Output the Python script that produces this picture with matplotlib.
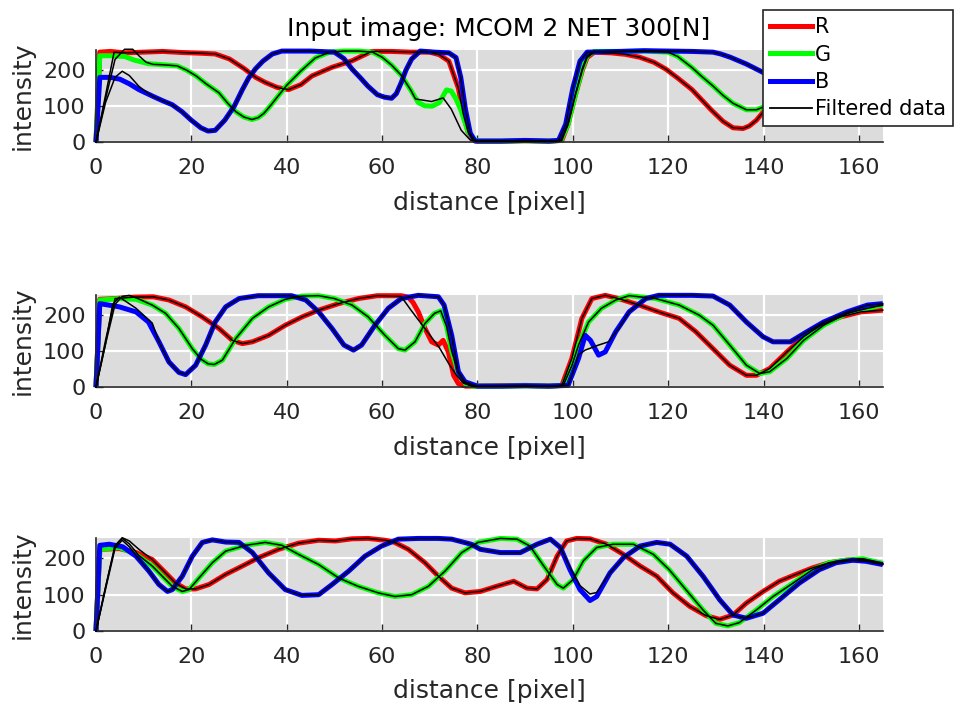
import matplotlib
matplotlib.use('Agg')
import matplotlib.pyplot as plt
from matplotlib.lines import Line2D

plt.rcParams['font.family'] = ['DejaVu Sans']

TITLE = 'Input image: MCOM 2 NET 300[N]'
XLABEL = 'distance [pixel]'
YLABEL = 'intensity'
LEGEND_LABELS = ['R', 'G', 'B', 'Filtered data']
XTICKS = [0, 20, 40, 60, 80, 100, 120, 140, 160]
YTICKS = [0, 100, 200]

# ---------------- Panel 1 (distance, intensity) ----------------
R1 = [(0,0),(0.8,250),(3,252),(6,248),(10,250),(14,252),(18,249),(22,247),(25,245),(28,231),(31,205),(33.5,180),(35.5,166),(38,152),(40.4,146),(43,160),(45.3,184),(49.5,208),(53.7,226),(57.8,252),(62,252),(66,250),(70,250),(72,243),(74,225),(76,150),(77,80),(78,30),(79,8),(80,3),(85,3),(90,4),(95,3),(97.7,5),(99,50),(100.5,130),(102,200),(103,235),(104.5,250),(108,248),(111,244),(114,236),(117,222),(119.5,203),(122,178),(125,146),(127,118),(129,90),(131.5,58),(133.6,40),(135.7,38),(137,45),(138.5,61),(140,85),(143,115),(148,140),(155,155),(165,165)]
G1 = [(0,0),(0.8,240),(3,240),(6,238),(8,228),(11,218),(14,215),(17,212),(19,200),(21,184),(23,163),(25.8,137),(27.5,110),(29.3,85),(31,70),(32.7,63),(34,68),(35.2,80),(36.5,100),(38,125),(40,158),(43,198),(46,234),(49,250),(52,253),(55,253),(58,250),(60,236),(62,214),(64,186),(66,145),(67.6,110),(69,101),(70.5,100),(72,110),(73.5,145),(74.5,142),(75.5,120),(76.5,90),(78,30),(79.5,5),(81,3),(85,3),(90,4),(95,3),(97.5,5),(99,50),(100.5,130),(102,205),(103,240),(104.5,252),(110,252),(115,253),(120,250),(122,238),(125,207),(127,183),(129.4,156),(131.5,130),(133.6,108),(136.4,90),(138.5,90),(140,98),(143,115),(148,130),(155,145),(165,155)]
B1 = [(0,0),(0.8,180),(3,180),(5,175),(7,162),(9,146),(12,127),(14,115),(16,104),(18,85),(20,61),(22,40),(23.5,31),(25,33),(27,61),(29,100),(30.7,146),(32,178),(33.4,203),(35,225),(37,245),(39,253),(45,253),(50,250),(52,232),(53.7,203),(55.5,178),(57,156),(59,132),(60.5,125),(62,122),(63,135),(64,165),(65,200),(66.2,231),(68,253),(71,250),(74,248),(75.5,235),(76.5,180),(77.5,90),(78.5,25),(79.5,3),(85,3),(90,5),(95,3),(97,5),(98.5,50),(100,150),(101.5,225),(103,250),(110,252),(115,254),(120,253),(125,252),(129.4,250),(131,245),(133,236),(136.4,217),(140,193),(145,175),(150,165),(165,150)]
# filtered-data segments that differ from the raw curves
FR1_seg = [(0,0),(2,130),(3.8,250),(6,248)]
FG1_seg = [(0,0),(2,120),(4,230),(6,258),(7.7,258),(9,240),(10.5,222),(12,216)]
FG1_seg2 = [(67,120),(70.4,113),(72.8,123),(74.5,92),(76.6,33),(78.5,6),(80,3)]
FB1_seg = [(0,0),(2,110),(4,180),(5.5,197),(7,185),(9,155),(11,135),(12,127)]

# ---------------- Panel 2 ----------------
R2 = [(0,0),(0.8,244),(4,246),(8,250),(12,251),(15.3,242),(18.8,223),(22.3,195),(25.8,163),(28.6,130),(30.7,121),(32.8,126),(36.2,144),(39.7,172),(43.2,195),(46.7,214),(50.9,232),(55,246),(59,254),(64,254),(65.5,250),(66.5,235),(67.6,209),(69,163),(70.4,126),(71.8,117),(72.8,130),(73.9,98),(75,33),(76,10),(77.5,3),(80,3),(85,4),(90,5),(95,3),(97.7,5),(99.8,80),(101.9,191),(104,246),(106.8,255),(109.6,246),(113.9,228),(118,209),(122.3,191),(125.8,154),(129.4,107),(132.9,61),(136.4,33),(138.5,33),(141.3,52),(144.9,98),(148.4,140),(151.9,172),(156.1,195),(160.4,209),(165,214)]
G2 = [(0,0),(0.8,242),(5,246),(8.4,244),(11.8,228),(14.6,205),(17.4,163),(20.2,107),(22,78),(23.5,65),(24.8,63),(26.5,75),(29.3,135),(32.8,191),(36.2,223),(39.7,244),(43.2,253),(46.7,254),(50,246),(53.7,228),(57.1,195),(60.6,144),(63.4,107),(64.8,103),(66.9,126),(69,177),(71,205),(72.3,212),(73.5,170),(74.6,100),(76,40),(77.5,10),(79,3),(85,3),(90,4),(95,3),(98,5),(99.8,60),(101.2,117),(103.3,181),(106,219),(109,242),(111.8,254),(117.4,246),(122.3,228),(126.5,200),(129.4,172),(132.9,117),(136.4,61),(139.2,38),(141.3,43),(144.9,80),(148.4,130),(152.6,172),(157.5,205),(161.8,219),(165,228)]
B2 = [(0,0),(0.8,232),(4.9,223),(8.4,209),(11,181),(13.2,126),(15.3,70),(17.4,41),(18.8,35),(20.9,61),(23,117),(25,181),(27.2,223),(30,246),(34,254),(41,254),(44,242),(46.7,209),(49.5,163),(52,117),(54,103),(55.7,117),(58.5,172),(61.3,219),(64,246),(67.6,255),(71.8,251),(73,228),(74.6,144),(76,43),(77.4,15),(80,3),(85,3),(90,4),(95,3),(99,5),(101.2,80),(102.6,144),(103.7,130),(105.4,89),(106.8,98),(109,154),(111.8,209),(115.3,246),(118,255),(125,255),(129.4,253),(132.9,228),(136.4,181),(139.9,140),(142,126),(145.6,126),(149.1,154),(152.6,181),(157.5,209),(161.8,228),(165,232)]
FR2_seg = [(0,0),(2,130),(4,246)]
FR2_seg2 = [(64,252),(66,215),(68,180),(70,145),(72,110),(74,65),(75.5,35),(77,12),(79,3)]
FG2_seg = [(0,0),(2,120),(4,230),(5.5,252),(7,255),(9,245),(11.1,232),(11.8,228)]
FB2_seg = [(0,0),(2,120),(3.5,230),(4.9,250),(6.5,236),(8.4,219),(11.8,178),(13.2,126)]
FB2_seg2 = [(99,5),(100,40),(101.2,90),(102.6,103),(105.4,117),(107.5,126),(109.6,163),(111.8,209)]

# ---------------- Panel 3 ----------------
R3 = [(0,0),(0.8,225),(4.9,227),(8.4,216),(11.8,197),(14.6,160),(16.7,132),(18.8,116),(20.9,116),(23.7,128),(27.2,156),(30.7,179),(34.1,202),(38.3,225),(42.5,242),(46.7,250),(50.2,248),(53.7,254),(57.1,255),(60.6,250),(62.5,245),(65.5,225),(69,188),(71.8,151),(74.6,118),(77.4,105),(80.6,109),(84,123),(87.6,137),(90.4,118),(92.5,116),(94.6,142),(96.7,206),(98.7,248),(100.8,255),(103.6,254),(107.1,239),(110.6,211),(114.1,179),(117.6,151),(121,105),(124.5,68),(128,42),(130.8,32),(133.6,44),(136.4,77),(139.9,109),(143.3,137),(146.8,156),(150.3,174),(153.8,188),(157.3,195),(160.8,197),(165,185)]
G3 = [(0,0),(0.8,225),(4.9,230),(8.4,211),(11.8,179),(13.9,151),(16,123),(18.1,109),(19.5,114),(21.6,146),(24.4,188),(27.2,220),(31.4,236),(35.5,244),(39,236),(42.5,211),(46.7,183),(50.9,146),(55,123),(59.2,105),(62.7,95),(66.2,100),(69.7,123),(73.2,165),(76.7,216),(80.1,244),(84.8,255),(88.3,253),(91,234),(93.9,179),(96.7,128),(98,118),(100.1,142),(102.2,193),(105,230),(108.5,239),(112.7,239),(116.9,211),(120.2,169),(123.7,114),(127.3,58),(130,21),(132.5,14),(134.9,23),(138.5,58),(142,95),(146.2,132),(150.3,169),(153.8,188),(157.3,195),(160.8,199),(165,186)]
B3 = [(0,0),(0.8,236),(2.8,239),(5.6,232),(8.4,206),(11.1,165),(13.2,128),(15,109),(16,114),(18.1,151),(20.2,206),(22.3,244),(24.4,251),(27.2,245),(30,244),(32.8,216),(36.2,160),(39.7,114),(43.2,98),(46.7,100),(49.5,128),(53,165),(56.4,206),(59.9,234),(63.4,253),(67.6,255),(71.8,255),(74.6,253),(78.7,239),(80.6,225),(84.8,216),(89,216),(92.5,239),(95.3,253),(97.4,230),(99.4,169),(101.5,114),(103.6,84),(105,95),(107.8,160),(110.6,202),(114.1,234),(117.6,244),(120.4,239),(123.9,206),(127.3,151),(130.8,86),(133.6,44),(136.4,35),(139.9,49),(143.3,86),(147.5,132),(151.7,169),(155.2,188),(158.7,195),(161.5,192),(165,183)]
FR3_seg = [(0,0),(2,120),(4,235),(5.5,257),(7,248),(9,225),(11,205)]
FG3_seg = [(0,0),(2,120),(4,235),(5.5,255),(7,240),(9,208)]
FB3_seg = [(0,0),(2,115),(4,228),(5.5,250),(7,232),(9,198)]
FB3_seg2 = [(99.4,175),(101.5,125),(103.6,102),(105,106),(107.8,160)]


def splice(base, *segs):
    pts = list(base)
    for seg in segs:
        lo, hi = seg[0][0], seg[-1][0]
        pts = [p for p in pts if p[0] < lo] + list(seg) + [p for p in pts if p[0] > hi]
    return pts


panels = [
    ([R1, G1, B1], [splice(R1, FR1_seg), splice(G1, FG1_seg, FG1_seg2), splice(B1, FB1_seg)]),
    ([R2, G2, B2], [splice(R2, FR2_seg, FR2_seg2), splice(G2, FG2_seg), splice(B2, FB2_seg, FB2_seg2)]),
    ([R3, G3, B3], [splice(R3, FR3_seg), splice(G3, FG3_seg), splice(B3, FB3_seg, FB3_seg2)]),
]

COLORS = ['#ff0000', '#00ff00', '#0000ff']
DARK = '#262626'

fig = plt.figure(figsize=(9.56, 7.04), dpi=100)
positions = [(0.1004, 0.798, 0.823, 0.131),
             (0.1004, 0.450, 0.823, 0.131),
             (0.1004, 0.1037, 0.823, 0.132)]

for pos, (raws, filts) in zip(positions, panels):
    ax = fig.add_axes(pos)
    ax.set_facecolor('#dcdcdc')
    for raw, c in zip(raws, COLORS):
        xs, ys = zip(*raw)
        ax.plot(xs, ys, color=c, lw=3.6, solid_capstyle='butt', zorder=2, clip_on=False)
    for f in filts:
        xs, ys = zip(*f)
        ax.plot(xs, ys, color='black', lw=1.1, zorder=3, clip_on=False)
    ax.set_xlim(0, 165)
    ax.set_ylim(0, 256)
    ax.set_xticks(XTICKS)
    ax.set_yticks(YTICKS)
    ax.grid(True, color='white', linewidth=1.6)
    ax.set_axisbelow(True)
    for s in ['top', 'right']:
        ax.spines[s].set_visible(False)
    for s in ['left', 'bottom']:
        ax.spines[s].set_color(DARK)
        ax.spines[s].set_linewidth(1.2)
    ax.tick_params(direction='in', length=5, width=1, colors=DARK, labelsize=16)
    ax.tick_params(axis='x', pad=11.5)
    ax.tick_params(axis='y', pad=7.5)
    ax.set_xlabel(XLABEL, fontsize=18, color=DARK, labelpad=9)
    ax.set_ylabel(YLABEL, fontsize=18, color=DARK, labelpad=6)

fig.text(499 / 956, 1 - 29 / 704, TITLE, ha='center', va='center', fontsize=18, color='black')

handles = [Line2D([], [], color=COLORS[0], lw=3.6),
           Line2D([], [], color=COLORS[1], lw=3.6),
           Line2D([], [], color=COLORS[2], lw=3.6),
           Line2D([], [], color='black', lw=1.3)]
leg = fig.legend(handles, LEGEND_LABELS, loc='upper right',
                 bbox_to_anchor=(953 / 956, 1 - 10 / 704), bbox_transform=fig.transFigure,
                 borderaxespad=0, fontsize=15, handlelength=2.0, handletextpad=0.15,
                 labelspacing=0.35, borderpad=0.35, fancybox=False, framealpha=1,
                 edgecolor=DARK)
leg.get_frame().set_linewidth(1.2)

fig.savefig('out.png', dpi=100)
